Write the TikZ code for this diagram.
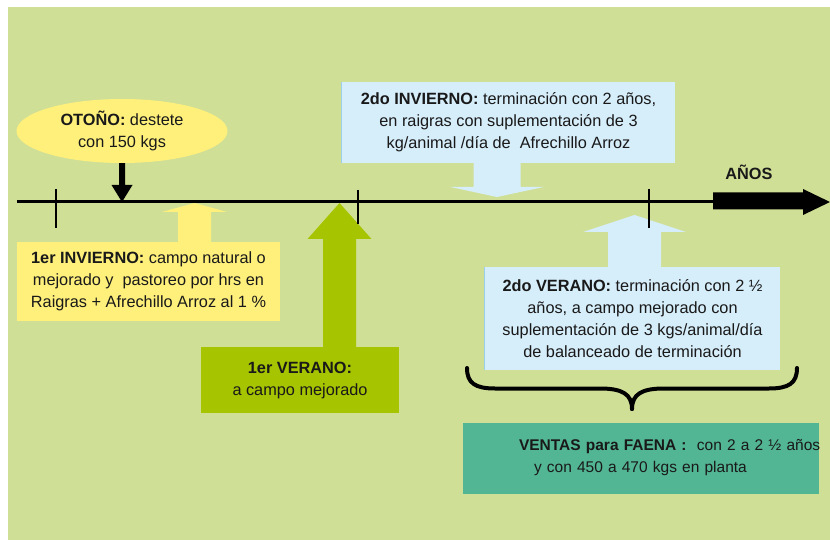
\documentclass[tikz,border=0pt]{standalone}
\usepackage{fontspec}
\setmainfont{Liberation Sans}
\usetikzlibrary{calc,shapes.geometric}
\definecolor{bg}{HTML}{D0DF96}
\definecolor{yel}{HTML}{FFF07C}
\definecolor{olivegreen}{HTML}{A6C400}
\definecolor{lblue}{HTML}{D6EDFA}
\definecolor{lblueedge}{HTML}{9BCFEA}
\definecolor{vteal}{HTML}{52B594}
\newcommand\blockarr[6]{%
  \fill[#6] let \p1=(#1), \p2=(#2) in
    (\x2-#3,\y1) -- (\x2-#3,\y2+#5) -- (\x2-#4,\y2+#5) -- (\x2,\y2)
    -- (\x2+#4,\y2+#5) -- (\x2+#3,\y2+#5) -- (\x2+#3,\y1) -- cycle;}
\begin{document}
\begin{tikzpicture}[x=1pt,y=-1pt,
  every node/.style={font=\fontsize{16.3}{22}\selectfont, text=black!90},
  box/.style={rectangle, inner sep=0pt, align=center},
  tick/.style={line width=2pt, black},
  brace/.style={line width=4pt, line cap=round, black}]
\useasboundingbox (0,0) rectangle (830,540);
\fill[bg] (8,7) rectangle (830,540);

% nodes
\node[ellipse, fill=yel, minimum width=211pt, minimum height=64pt, inner sep=0pt, align=center]
  (oto) at (122,131) {\textbf{OTOÑO:} destete\\con 150 kgs};
\node[box, fill=yel, minimum width=263pt, minimum height=79pt] (inv1) at (148.5,281.5)
  {\textbf{1er INVIERNO:} campo natural o\\mejorado y\ \ pastoreo por hrs en\\Raigras + Afrechillo Arroz al 1 \%};
\node[box, fill=olivegreen, minimum width=198pt, minimum height=66pt] (ver1) at (300,380)
  {\textbf{1er VERANO:}\\a campo mejorado};
\node[box, fill=lblue, minimum width=333pt, minimum height=81pt] (inv2) at (508.5,122.5)
  {\textbf{2do INVIERNO:} terminación con 2 años,\\en raigras con suplementación de 3\\kg/animal /día de\ \ Afrechillo Arroz};
\node[box, fill=lblue, minimum width=295pt, minimum height=103pt] (ver2) at (632.5,318.5)
  {\textbf{2do VERANO:} terminación con 2 ½\\años, a campo mejorado con\\suplementación de 3 kgs/animal/día\\de balanceado de terminación};
\node[box, fill=vteal, minimum width=356pt, minimum height=71pt, text width=356pt, align=left,
  font=\fontsize{15.5}{22}\selectfont] (ventas) at (641,458)
  {\hspace*{56pt}\mbox{\textbf{VENTAS para FAENA :}\ \ con 2 a 2 ½ años}\\\hspace*{71pt}\mbox{y con 450 a 470 kgs en planta}};
\draw[lblueedge, line width=1pt] (inv2.north west) -- (inv2.south west);
\draw[lblueedge, line width=1pt] (ver2.north west) -- (ver2.south west);

% timeline points
\coordinate (tO) at (122,202);
\coordinate (tA) at (194.5,203);
\coordinate (tB) at (339.5,203);
\coordinate (tC) at (497,197);
\coordinate (tD) at (634.5,215);
\coordinate (tlstart) at (17,202);
\coordinate (tlend) at (713,202);

% block arrows
\blockarr{inv1.north -| tA}{tA}{16.5pt}{32.5pt}{-9pt}{yel}
\blockarr{ver1.north -| tB}{tB}{16.5pt}{32pt}{-36pt}{olivegreen}
\blockarr{inv2.south -| tC}{tC}{23.5pt}{46.5pt}{10pt}{lblue}
\blockarr{ver2.north -| tD}{tD}{26.5pt}{51.5pt}{-17pt}{lblue}
\blockarr{oto.south -| tO}{tO}{3pt}{10.5pt}{17pt}{black}

% timeline
\draw[line width=3pt] (tlstart) -- (tlend);
\fill[black] (tlend |- 0,192.5) -- (803,192.5) -- (803,189) -- (830,202) -- (803,215) -- (803,209.5) -- (tlend |- 0,209.5) -- cycle;
\draw[tick] (56,189) -- (56,228);
\draw[tick] (358,190) -- (358,224);
\draw[tick] (649,189) -- (649,228);
\node[anchor=base, font=\bfseries\fontsize{16.3}{18}\selectfont] (anos) at (749,180) {AÑOS};

% brace
\draw[brace] (467,368) .. controls (467,383) and (475,388.5) .. (495,388.5) -- (600,388.5)
  .. controls (622,388.5) and (632,394) .. (632,409);
\draw[brace] (797,368) .. controls (797,383) and (789,388.5) .. (769,388.5) -- (664,388.5)
  .. controls (642,388.5) and (632,394) .. (632,409);
\end{tikzpicture}
\end{document}
